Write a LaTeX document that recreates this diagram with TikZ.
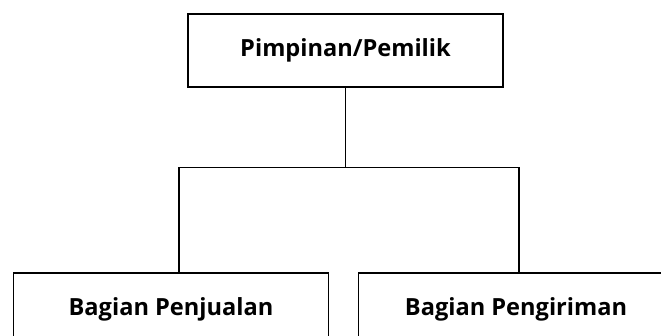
\documentclass[tikz,border=0pt]{standalone}
\usepackage{fontspec}
\setmainfont{Open Sans}
\usetikzlibrary{positioning}

\begin{document}
\begin{tikzpicture}[
    x=1pt, y=1pt,
    line width=1.3pt,
    unit/.style={draw, rectangle, minimum width=315pt, minimum height=73pt,
        inner sep=0, font=\fontsize{23.6}{28}\selectfont\bfseries},
    link/.style={draw, line width=1.3pt}]
\clip (0,0) rectangle (661,336);
\useasboundingbox (0,0) rectangle (661,336);

\node[unit] (owner) at (345.5,285.5) {Pimpinan/Pemilik};
\node[unit] (sales) at (171,26.5)    {Bagian Penjualan};
\node[unit] (ship)  at (516,26.5)    {Bagian Pengiriman};

% stem and branches
\path[link] (owner.south) -- ++(0,-80) coordinate (bus);
\path[link] ([xshift=8pt]sales.north) |- (bus) -| ([xshift=3pt]ship.north);

\end{tikzpicture}
\end{document}
